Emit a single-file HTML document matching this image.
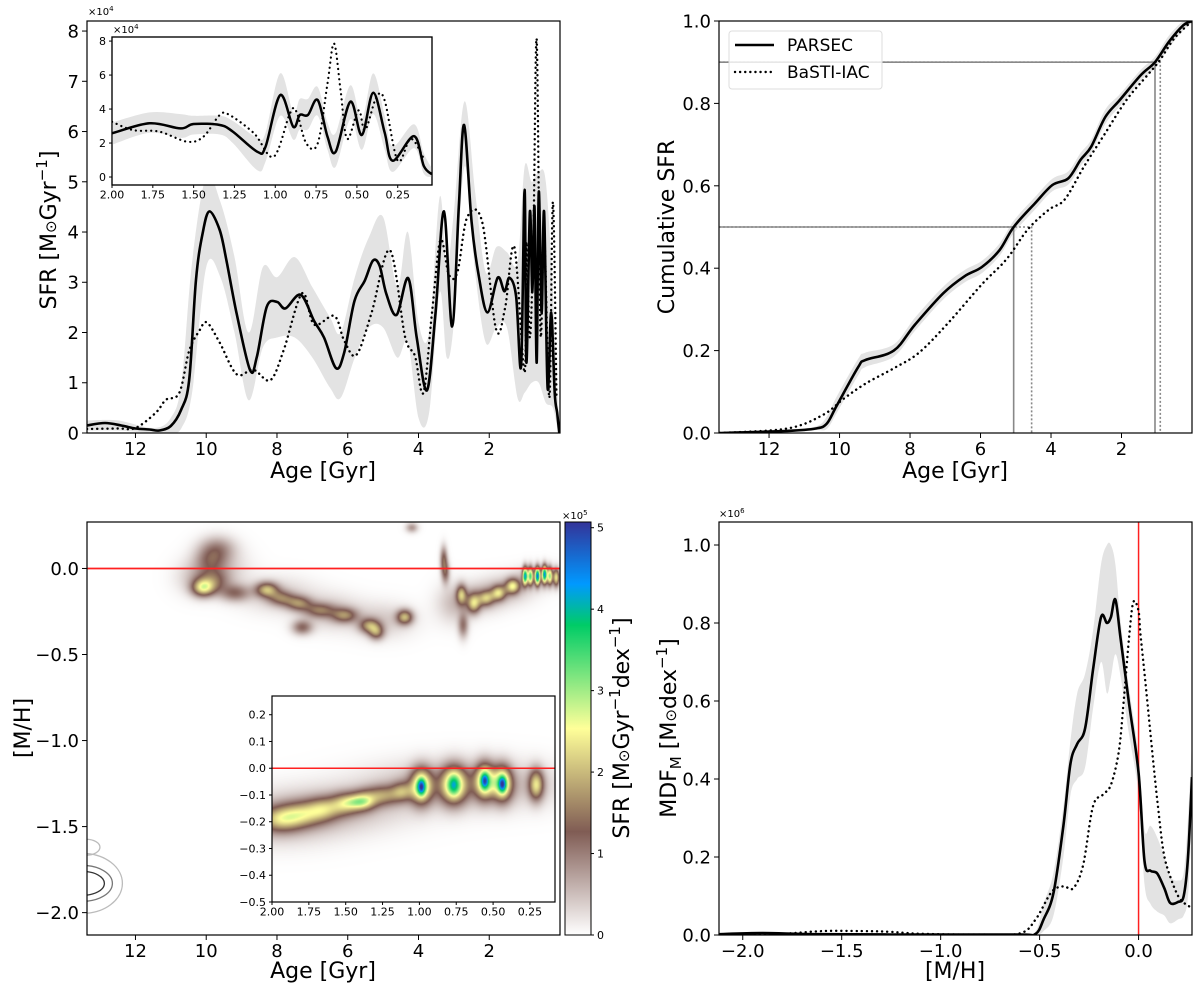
<!DOCTYPE html>
<html><head><meta charset="utf-8">
<style>
html,body{margin:0;padding:0;background:#fff;}
#wrap{position:relative;width:1200px;height:995px;overflow:hidden;background:#fff;}
#heat{position:absolute;left:87px;top:522px;}
#fig{position:absolute;left:0;top:0;}
text{font-family:"DejaVu Sans","Liberation Sans",sans-serif;fill:#000;}
</style></head>
<body>
<div id="wrap">
<canvas id="heat" width="473" height="413"></canvas>
<svg id="fig" width="1200" height="995" xmlns="http://www.w3.org/2000/svg">
<defs>
<clipPath id="c1"><rect x="87" y="21" width="473" height="412"/></clipPath>
<clipPath id="c1i"><rect x="112" y="37" width="320" height="148"/></clipPath>
<clipPath id="c2"><rect x="719" y="21" width="473" height="412"/></clipPath>
<clipPath id="c3"><rect x="87" y="522" width="473" height="413"/></clipPath>
<clipPath id="c4"><rect x="719" y="522" width="473" height="413"/></clipPath>
<linearGradient id="cbgrad" x1="0" y1="1" x2="0" y2="0">
<stop offset="0" stop-color="rgb(255,255,255)"/>
<stop offset="0.25" stop-color="rgb(128,92,84)"/>
<stop offset="0.5" stop-color="rgb(255,255,153)"/>
<stop offset="0.75" stop-color="rgb(0,204,102)"/>
<stop offset="0.85" stop-color="rgb(0,153,255)"/>
<stop offset="1" stop-color="rgb(51,51,153)"/>
</linearGradient>
</defs>
<g id="layer"></g>
</svg>
</div>
<script>
// ---------- Panel 1: SFR vs age ----------
const p1SolidAge=[13.37,12.86,12.4,12.0,11.6,11.33,11.0,10.71,10.48,10.29,10.1,9.91,9.62,9.43,9.14,8.76,8.57,8.29,8.0,7.76,7.33,6.95,6.67,6.33,6.1,5.81,5.52,5.29,5.10,4.91,4.62,4.29,4.05,3.76,3.52,3.28,3.05,2.86,2.71,2.5,2.29,2.05,1.76,1.57,1.43,1.24,1.10,1.0,0.95,0.85,0.78,0.72,0.66,0.6,0.52,0.45,0.35,0.25,0.15,0.08,0.02];
const p1SolidVal=[0.15,0.2,0.15,0.09,0.07,0.05,0.14,0.46,1.06,3.05,3.98,4.41,4.04,3.44,2.38,1.25,1.51,2.51,2.61,2.48,2.75,2.23,1.9,1.29,1.6,2.63,3.03,3.43,3.33,2.77,2.35,3.08,1.9,0.85,2.38,4.41,2.12,4.5,6.13,4.2,3.1,2.4,3.09,2.82,3.09,2.72,1.34,4.84,1.4,4.4,2.8,4.5,1.4,4.8,2.4,4.4,0.9,2.4,0.8,0.4,0];
const p1DotAge=[13.37,12.5,12.0,11.43,11.14,10.76,10.48,10.19,9.98,9.62,9.14,8.67,8.19,7.81,7.29,6.95,6.38,6.1,5.76,5.33,4.81,4.38,4.1,3.86,3.62,3.38,3.14,2.9,2.62,2.2,1.81,1.55,1.29,1.0,0.95,0.85,0.75,0.66,0.55,0.45,0.3,0.2,0.1];
const p1DotVal=[0.08,0.09,0.1,0.4,0.66,0.8,1.64,2.04,2.2,1.8,1.17,1.26,1.05,1.65,2.78,2.16,2.33,1.84,1.55,2.38,3.64,1.92,1.53,0.8,2.38,3.84,3.15,3.2,4.3,4.2,2.07,2.5,3.7,1.2,3.8,1.9,4.0,7.83,2.0,4.0,0.7,4.6,0.7];
const p1BandAge=[13.37,12.5,11.5,11,10.7,10.4,10,9.6,9.2,8.8,8.4,8,7.5,7,6.5,6.2,5.8,5.4,5,4.6,4.3,4.0,3.7,3.4,3.2,3.0,2.7,2.4,2.1,1.8,1.5,1.2,1.0,0.8,0.6,0.4,0.2,0.05];
const p1BandHi=[0.25,0.25,0.1,0.3,1.0,3.4,5.1,4.6,3.5,2.0,3.3,3.1,3.5,2.9,2.3,2.0,3.1,3.9,4.3,2.9,4.0,2.2,2.0,4.7,3.3,4.4,6.6,4.8,3.2,3.7,3.6,3.4,5.3,5.0,5.2,5.0,2.8,0.5];
const p1BandLo=[0.05,0.05,0,0,0.1,0.8,3.3,3.1,2.0,0.65,1.7,1.9,1.9,1.5,0.9,0.7,1.5,2.1,2.1,1.5,1.8,0.3,0.4,2.8,1.5,2.2,5.3,3.2,1.8,2.1,2.1,0.7,0.8,1.0,1.0,0.6,0.5,0];
const p1XTicks=[12,10,8,6,4,2];
const p1YTicks=[0,1,2,3,4,5,6,7,8];
// inset of panel 1
const i1SolidAge=[2.0,1.77,1.58,1.5,1.34,1.26,1.11,1.06,0.97,0.89,0.85,0.80,0.74,0.68,0.63,0.54,0.47,0.40,0.33,0.28,0.15,0.09,0.04];
const i1SolidVal=[2.57,3.16,2.86,3.12,3.06,2.67,1.49,1.78,4.82,2.96,3.65,3.65,4.53,2.37,1.49,4.43,2.47,4.96,2.61,0.96,2.41,0.65,0.16];
const i1BandHi=[3.2,3.8,3.7,3.6,3.6,3.3,2.3,2.6,6.1,3.8,4.6,4.6,5.3,3.2,2.6,5.4,3.4,6.1,3.6,1.8,3.1,1.4,0.5];
const i1BandLo=[1.9,2.6,2.3,2.5,2.5,2.0,0.4,0.9,3.6,2.2,2.8,2.8,3.6,1.6,0.6,3.4,1.6,3.7,1.6,0.3,1.7,0.2,0];
const i1DotAge=[2.0,1.87,1.71,1.54,1.44,1.34,1.28,1.13,1.01,0.91,0.87,0.81,0.74,0.68,0.64,0.60,0.56,0.49,0.45,0.38,0.33,0.25,0.17,0.09];
const i1DotVal=[3.25,2.76,2.67,2.08,2.37,3.65,3.65,2.57,1.19,3.75,3.84,1.98,1.98,5.51,7.86,5.1,2.25,3.92,2.76,4.71,4.5,0.96,2.25,1.08];
const i1XTicks=[2.0,1.75,1.5,1.25,1.0,0.75,0.5,0.25];
const i1XLabels=["2.00","1.75","1.50","1.25","1.00","0.75","0.50","0.25"];
const i1YTicks=[0,2,4,6,8];
// ---------- Panel 2: cumulative ----------
const p2SolidAge=[13.4,11.48,10.67,10.36,10.07,9.47,9.27,8.46,7.86,7.06,6.46,5.96,5.46,5.06,4.46,3.96,3.51,3.16,2.86,2.46,2.05,1.45,1.05,0.65,0.24,0];
const p2SolidVal=[0,0.005,0.011,0.023,0.068,0.16,0.177,0.2,0.263,0.339,0.38,0.403,0.444,0.5,0.557,0.602,0.618,0.663,0.695,0.767,0.808,0.869,0.9,0.95,0.99,1.0];
const p2BandHi=[0.003,0.009,0.016,0.04,0.09,0.18,0.195,0.215,0.28,0.355,0.395,0.418,0.46,0.515,0.572,0.617,0.635,0.68,0.712,0.785,0.822,0.882,0.913,0.965,1.0,1.0];
const p2BandLo=[0,0.002,0.007,0.01,0.05,0.14,0.16,0.185,0.248,0.324,0.365,0.388,0.43,0.485,0.542,0.587,0.603,0.648,0.68,0.75,0.793,0.855,0.885,0.935,0.978,0.995];
const p2DotAge=[13.4,11.48,10.47,9.87,9.26,8.46,7.76,6.96,5.96,5.26,4.66,4.06,3.61,3.06,2.46,1.86,1.26,0.91,0.5,0];
const p2DotVal=[0,0.011,0.044,0.084,0.12,0.157,0.194,0.263,0.361,0.422,0.494,0.542,0.567,0.647,0.728,0.808,0.869,0.905,0.958,1.0];
const p2Marks50=[5.06,4.55];
const p2Marks90=[1.05,0.9];
const p2YTicks=[0,0.2,0.4,0.6,0.8,1.0];
const p2YLabels=["0.0","0.2","0.4","0.6","0.8","1.0"];
// ---------- Panel 3: heatmap blobs ----------
const hmAge=[10.1,9.8,9.7,9.9,8.3,7.9,7.4,6.8,6.1,5.4,5.2,4.4,7.3,9.2,3.3,3.25,2.8,2.45,2.1,1.75,1.35,1.0,0.85,0.65,0.45,0.3,0.12,4.2,9.6,2.75,8.0,6.5,5.0,3.0,1.5,2.2,0.6,10.3];
const hmMh=[-0.11,-0.07,0.12,0.05,-0.12,-0.17,-0.2,-0.24,-0.27,-0.33,-0.37,-0.28,-0.34,-0.14,0.06,-0.02,-0.15,-0.2,-0.17,-0.14,-0.1,-0.04,-0.04,-0.04,-0.03,-0.04,-0.05,0.24,0.0,-0.33,-0.15,-0.25,-0.3,-0.2,-0.12,-0.17,-0.05,-0.05];
const hmAmp=[2.0,0.9,0.8,0.7,1.7,1.1,1.3,1.1,1.3,1.5,1.3,1.8,1.1,1.0,1.2,1.1,1.7,1.8,1.5,1.7,2.0,3.7,2.8,3.9,3.8,2.5,2.0,0.8,0.45,1.0,0.4,0.45,0.4,0.5,0.5,0.5,0.7,0.4];
const hmSAge=[0.22,0.3,0.35,0.3,0.22,0.25,0.25,0.3,0.25,0.2,0.15,0.16,0.2,0.3,0.07,0.08,0.1,0.13,0.15,0.14,0.14,0.05,0.05,0.05,0.05,0.05,0.06,0.12,0.5,0.1,0.7,0.6,0.6,0.35,0.5,0.4,0.4,0.4];
const hmSMh=[0.035,0.045,0.05,0.05,0.03,0.03,0.03,0.03,0.03,0.03,0.03,0.03,0.03,0.035,0.05,0.045,0.04,0.04,0.03,0.03,0.03,0.035,0.035,0.035,0.035,0.035,0.035,0.02,0.08,0.05,0.07,0.07,0.07,0.08,0.06,0.06,0.045,0.07];
// inset of panel 3
const inAge=[1.95,1.8,1.65,1.5,1.38,1.25,1.12,0.99,0.77,0.56,0.44,0.21,0.99,0.77,0.56,0.44,1.42,1.6,0.7,2.0];
const inMh=[-0.19,-0.17,-0.15,-0.13,-0.12,-0.1,-0.085,-0.065,-0.06,-0.045,-0.055,-0.06,-0.068,-0.06,-0.045,-0.058,-0.125,-0.15,-0.06,-0.2];
const inAmp=[1.4,1.3,1.3,1.5,1.5,1.3,1.2,2.6,2.5,2.6,2.6,2.0,1.9,0.9,1.6,1.9,0.6,0.5,0.8,0.5];
const inSAge=[0.1,0.1,0.08,0.07,0.06,0.08,0.05,0.05,0.06,0.045,0.045,0.035,0.018,0.025,0.018,0.018,0.06,0.35,0.4,0.3];
const inSMh=[0.032,0.032,0.03,0.028,0.026,0.026,0.025,0.045,0.048,0.045,0.045,0.04,0.02,0.025,0.02,0.02,0.015,0.06,0.06,0.06];
const p3XTicks=[12,10,8,6,4,2];
const p3YTicks=[0,-0.5,-1.0,-1.5,-2.0];
const p3YLabels=["0.0","\u22120.5","\u22121.0","\u22121.5","\u22122.0"];
const i3YTicks=[0.2,0.1,0,-0.1,-0.2,-0.3,-0.4,-0.5];
const i3YLabels=["0.2","0.1","0.0","\u22120.1","\u22120.2","\u22120.3","\u22120.4","\u22120.5"];
const cbTicks=[0,1,2,3,4,5];
// ---------- Panel 4: MDF ----------
const p4SolidMh=[-2.12,-1.9,-1.6,-1.0,-0.6,-0.52,-0.48,-0.43,-0.38,-0.344,-0.31,-0.27,-0.23,-0.19,-0.16,-0.14,-0.117,-0.09,-0.05,0.0,0.03,0.06,0.094,0.13,0.16,0.2,0.228,0.25,0.27];
const p4SolidVal=[0.002,0.005,0.002,0.001,0.001,0.003,0.04,0.108,0.28,0.44,0.49,0.53,0.68,0.815,0.80,0.815,0.86,0.756,0.6,0.415,0.19,0.165,0.158,0.12,0.082,0.085,0.1,0.2,0.405];
const p4BandHi=[0.004,0.008,0.004,0.002,0.002,0.01,0.08,0.16,0.33,0.5,0.62,0.67,0.78,0.95,1.0,1.0,0.95,0.8,0.64,0.46,0.27,0.28,0.25,0.2,0.15,0.14,0.16,0.3,0.5];
const p4BandLo=[0,0.002,0,0,0,0,0.01,0.05,0.2,0.36,0.4,0.43,0.58,0.7,0.62,0.66,0.72,0.66,0.52,0.36,0.13,0.08,0.06,0.05,0.03,0.04,0.05,0.1,0.3];
const p4DotMh=[-2.12,-2.0,-1.8,-1.6,-1.4,-1.25,-1.1,-0.8,-0.6,-0.52,-0.44,-0.38,-0.33,-0.28,-0.23,-0.18,-0.14,-0.1,-0.075,-0.045,-0.025,0.0,0.01,0.04,0.077,0.1,0.127,0.16,0.2,0.235,0.27];
const p4DotVal=[0.002,0.002,0.003,0.01,0.01,0.008,0.003,0.001,0.004,0.04,0.11,0.125,0.12,0.18,0.33,0.36,0.385,0.47,0.6,0.78,0.855,0.83,0.77,0.62,0.43,0.32,0.21,0.15,0.1,0.08,0.07];
const p4XTicks=[-2.0,-1.5,-1.0,-0.5,0.0];
const p4XLabels=["\u22122.0","\u22121.5","\u22121.0","\u22120.5","0.0"];
const p4YTicks=[0,0.2,0.4,0.6,0.8,1.0];
const p4YLabels=["0.0","0.2","0.4","0.6","0.8","1.0"];

const NS="http://www.w3.org/2000/svg";
const root=document.getElementById('layer');
function mk(tag,attrs,parent){const e=document.createElementNS(NS,tag);for(const k in attrs)e.setAttribute(k,attrs[k]);(parent||root).appendChild(e);return e;}
function X(ax,v){return ax.x0+(v-ax.xmin)/(ax.xmax-ax.xmin)*(ax.x1-ax.x0);}
function Y(ax,v){return ax.y0-(v-ax.ymin)/(ax.ymax-ax.ymin)*(ax.y0-ax.y1);}
function pts(ax,xs,ys){return xs.map((x,i)=>[X(ax,x),Y(ax,ys[i])]);}
function smooth(p){let d='M'+p[0][0].toFixed(1)+','+p[0][1].toFixed(1);for(let i=0;i<p.length-1;i++){const p0=p[i-1]||p[i],p1=p[i],p2=p[i+1],p3=p[i+2]||p2;const c1=[p1[0]+(p2[0]-p0[0])/6,p1[1]+(p2[1]-p0[1])/6];const c2=[p2[0]-(p3[0]-p1[0])/6,p2[1]-(p3[1]-p1[1])/6];d+=' C'+c1[0].toFixed(1)+','+c1[1].toFixed(1)+' '+c2[0].toFixed(1)+','+c2[1].toFixed(1)+' '+p2[0].toFixed(1)+','+p2[1].toFixed(1);}return d;}
function band(ax,xs,hi,lo,clip,name){const a=pts(ax,xs,hi),b=pts(ax,xs,lo).reverse();const d=smooth(a)+' L'+b[0][0]+','+b[0][1]+smooth(b).slice(1).replace(/^[^C]*/,'')+' Z';
const e=mk('path',{d:d,fill:'#e3e3e3',stroke:'none','clip-path':'url(#'+clip+')'});

}
function line(ax,xs,ys,dotted,w,clip,name){const e=mk('path',{d:smooth(pts(ax,xs,ys)),fill:'none',stroke:'#000','stroke-width':w,'stroke-linecap':dotted?'round':'butt','stroke-linejoin':'round','stroke-dasharray':dotted?'0.1 5':'none','clip-path':'url(#'+clip+')'});

}
function txt(x,y,s,size,anchor,name,rot){const e=mk('text',{x:x,y:y,'font-size':size,'text-anchor':anchor||'middle'});if(rot)e.setAttribute('transform','rotate(-90 '+x+' '+y+')');e.innerHTML=s;

return e;}
function frame(ax,name,fill){const e=mk('rect',{x:ax.x0,y:ax.y1,width:ax.x1-ax.x0,height:ax.y0-ax.y1,fill:fill||'none',stroke:'#000','stroke-width':1.2});

}
function xticks(ax,vals,labels,size,len,name){vals.forEach((v,i)=>{const x=X(ax,v);const t=mk('line',{x1:x,x2:x,y1:ax.y0,y2:ax.y0+len,stroke:'#000','stroke-width':1});


txt(x,ax.y0+len+size*0.95,labels?labels[i]:String(v),size,'middle',name+'-label');});}
function yticks(ax,vals,labels,size,len,name){vals.forEach((v,i)=>{const y=Y(ax,v);const t=mk('line',{x1:ax.x0-len,x2:ax.x0,y1:y,y2:y,stroke:'#000','stroke-width':1});


txt(ax.x0-len-3,y+size*0.36,labels?labels[i]:String(v),size,'end',name+'-label');});}

const A1={x0:87,x1:560,xmin:13.37,xmax:0,y0:433,y1:21,ymin:0,ymax:8.2};
const I1={x0:112,x1:432,xmin:2.0,xmax:0.04,y0:185,y1:37,ymin:-0.47,ymax:8.24};
const A2={x0:719,x1:1192,xmin:13.42,xmax:0,y0:433,y1:21,ymin:0,ymax:1.0};
const A3={x0:87,x1:560,xmin:13.37,xmax:0,y0:935,y1:522,ymin:-2.13,ymax:0.27};
const I3={x0:272,x1:555,xmin:2.0,xmax:0.08,y0:902,y1:696,ymin:-0.5,ymax:0.27};
const A4={x0:719,x1:1192,xmin:-2.12,xmax:0.27,y0:935,y1:522,ymin:0,ymax:1.059};
const CB={x0:565,x1:591,y0:935,y1:522,ymin:0,ymax:5.07,xmin:0,xmax:1};

// Panel 1
band(A1,p1BandAge,p1BandHi,p1BandLo,'c1','sfr-uncertainty-band');
line(A1,p1DotAge,p1DotVal,true,2.4,'c1','sfr-basti-line');
line(A1,p1SolidAge,p1SolidVal,false,2.6,'c1','sfr-parsec-line');
frame(A1,'sfr-axes');
xticks(A1,p1XTicks,null,18,5,'sfr-x');
yticks(A1,p1YTicks,null,18,5,'sfr-y');
txt(88,15,'×10<tspan font-size="7" dy="-4">4</tspan>',10,'start','sfr-y-multiplier');
txt(323,478,'Age [Gyr]',22,'middle','sfr-x-title');
txt(56,230,'SFR [M<tspan font-size="15">⊙</tspan>Gyr<tspan font-size="15" dy="-9">−1</tspan><tspan dy="9">]</tspan>',22,'middle','sfr-y-title',true);
// inset 1
frame(I1,'sfr-inset-axes','#fff');
band(I1,i1SolidAge,i1BandHi,i1BandLo,'c1i','sfr-inset-band');
line(I1,i1DotAge,i1DotVal,true,2.2,'c1i','sfr-inset-basti-line');
line(I1,i1SolidAge,i1SolidVal,false,2.5,'c1i','sfr-inset-parsec-line');
frame(I1,'sfr-inset-frame');
xticks(I1,i1XTicks,i1XLabels,11,3,'sfr-inset-x');
yticks(I1,i1YTicks,null,11,3,'sfr-inset-y');
txt(113,33,'×10<tspan font-size="7" dy="-4">4</tspan>',10,'start','sfr-inset-multiplier');

// Panel 2
band(A2,p2SolidAge,p2BandHi,p2BandLo,'c2','cumulative-band');
p2Marks50.forEach((a,i)=>{const x=X(A2,a),y=Y(A2,0.5);const e=mk('path',{d:'M'+A2.x0+','+y+' H'+x+' V'+A2.y0,fill:'none',stroke:'#888','stroke-width':1.6,'stroke-dasharray':i?'2 2':'none'});

});
p2Marks90.forEach((a,i)=>{const x=X(A2,a),y=Y(A2,0.9);const e=mk('path',{d:'M'+A2.x0+','+y+' H'+x+' V'+A2.y0,fill:'none',stroke:'#888','stroke-width':1.6,'stroke-dasharray':i?'2 2':'none'});

});
line(A2,p2DotAge,p2DotVal,true,2.4,'c2','cumulative-basti-line');
line(A2,p2SolidAge,p2SolidVal,false,2.6,'c2','cumulative-parsec-line');
frame(A2,'cumulative-axes');
xticks(A2,p1XTicks,null,18,5,'cumulative-x');
yticks(A2,p2YTicks,p2YLabels,18,5,'cumulative-y');
txt(955,478,'Age [Gyr]',22,'middle','cumulative-x-title');
txt(674,227,'Cumulative SFR',22,'middle','cumulative-y-title',true);

// Panel 3 heatmap canvas
function cmap(v){const stops=[[0,255,255,255],[0.25,128,92,84],[0.5,255,255,153],[0.75,0,204,102],[0.85,0,153,255],[1,51,51,153]];let t=Math.max(0,Math.min(1,v/5.07));for(let i=0;i<stops.length-1;i++){const a=stops[i],b=stops[i+1];if(t<=b[0]){const f=(t-a[0])/(b[0]-a[0]);return [a[1]+(b[1]-a[1])*f,a[2]+(b[2]-a[2])*f,a[3]+(b[3]-a[3])*f];}}return [51,51,153];}
(function(){const cv=document.getElementById('heat');const ctx=cv.getContext('2d');const W=473,H=413;const img=ctx.createImageData(W,H);
for(let py=0;py<H;py++){for(let px=0;px<W;px++){const gx=87+px,gy=522+py;let ax=A3,ages=hmAge,mhs=hmMh,amp=hmAmp,sa=hmSAge,sm=hmSMh;
if(gx>=I3.x0&&gx<=I3.x1&&gy>=I3.y1&&gy<=I3.y0){ax=I3;ages=inAge;mhs=inMh;amp=inAmp;sa=inSAge;sm=inSMh;}
const age=ax.xmin+(gx-ax.x0)/(ax.x1-ax.x0)*(ax.xmax-ax.xmin);const mh=ax.ymin+(ax.y0-gy)/(ax.y0-ax.y1)*(ax.ymax-ax.ymin);
let v=0;for(let k=0;k<ages.length;k++){const da=(age-ages[k])/sa[k],dm=(mh-mhs[k])/sm[k];const q=da*da+dm*dm;if(q<30)v+=amp[k]*Math.exp(-q/2);}
const c=cmap(v);const o=(py*W+px)*4;img.data[o]=c[0];img.data[o+1]=c[1];img.data[o+2]=c[2];img.data[o+3]=255;}}
ctx.putImageData(img,0,0);})();
// contours lower-left
[[22,12,'#333'],[30,18,'#777'],[40,30,'#bbb']].forEach((c,i)=>{const cx=X(A3,13.5),cy=Y(A3,-1.83);const e=mk('ellipse',{cx:cx,cy:cy,rx:c[0],ry:c[1],fill:'none',stroke:c[2],'stroke-width':1.3,'clip-path':'url(#c3)'});

});
(function(){const e=mk('ellipse',{cx:X(A3,13.4),cy:Y(A3,-1.62),rx:14,ry:8,fill:'none',stroke:'#bbb','stroke-width':1.3,'clip-path':'url(#c3)'});

})();
(function(){const y=Y(A3,0);const e=mk('line',{x1:A3.x0,x2:A3.x1,y1:y,y2:y,stroke:'#ff2020','stroke-width':1.8});

})();
frame(A3,'amr-axes');
xticks(A3,p3XTicks,null,18,5,'amr-x');
yticks(A3,p3YTicks,p3YLabels,18,5,'amr-y');
txt(323,978,'Age [Gyr]',22,'middle','amr-x-title');
txt(30,728,'[M/H]',22,'middle','amr-y-title',true);
// inset 3
(function(){const y=Y(I3,0);const e=mk('line',{x1:I3.x0,x2:I3.x1,y1:y,y2:y,stroke:'#ff2020','stroke-width':1.5});

})();
frame(I3,'amr-inset-axes');
xticks(I3,i1XTicks,i1XLabels,11,3,'amr-inset-x');
yticks(I3,i3YTicks,i3YLabels,11,3,'amr-inset-y');
// colorbar
(function(){const e=mk('rect',{x:CB.x0,y:CB.y1,width:CB.x1-CB.x0,height:CB.y0-CB.y1,fill:'url(#cbgrad)',stroke:'#000','stroke-width':1});

})();
cbTicks.forEach(v=>{const y=Y(CB,v);const t=mk('line',{x1:CB.x1,x2:CB.x1+3,y1:y,y2:y,stroke:'#000','stroke-width':1});


txt(CB.x1+6,y+4,String(v),11,'start','colorbar-tick-label');});
txt(562,519,'×10<tspan font-size="7" dy="-4">5</tspan>',10,'start','colorbar-multiplier');
txt(629,728,'SFR [M<tspan font-size="15">⊙</tspan>Gyr<tspan font-size="15" dy="-9">−1</tspan><tspan dy="9">dex</tspan><tspan font-size="15" dy="-9">−1</tspan><tspan dy="9">]</tspan>',22,'middle','colorbar-title',true);

// Panel 4
band(A4,p4SolidMh,p4BandHi,p4BandLo,'c4','mdf-band');
(function(){const x=X(A4,0);const e=mk('line',{x1:x,x2:x,y1:A4.y1,y2:A4.y0,stroke:'#ff2020','stroke-width':1.5});

})();
line(A4,p4DotMh,p4DotVal,true,2.4,'c4','mdf-basti-line');
line(A4,p4SolidMh,p4SolidVal,false,2.6,'c4','mdf-parsec-line');
frame(A4,'mdf-axes');
xticks(A4,p4XTicks,p4XLabels,18,5,'mdf-x');
yticks(A4,p4YTicks,p4YLabels,18,5,'mdf-y');
txt(719,517,'×10<tspan font-size="7" dy="-4">6</tspan>',10,'start','mdf-y-multiplier');
txt(955,978,'[M/H]',22,'middle','mdf-x-title');
txt(676,728,'MDF<tspan font-size="15" dy="5">M</tspan><tspan dy="-5"> [M</tspan><tspan font-size="15">⊙</tspan>dex<tspan font-size="15" dy="-9">−1</tspan><tspan dy="9">]</tspan>',22,'middle','mdf-y-title',true);
</script>
<script>
// legend overlay (panel 2)
(function(){const svg=document.getElementById('fig');const NS2="http://www.w3.org/2000/svg";
const g=document.createElementNS(NS2,'g');svg.appendChild(g);


const r=document.createElementNS(NS2,'rect');r.setAttribute('x',729);r.setAttribute('y',31);r.setAttribute('width',153);r.setAttribute('height',58);r.setAttribute('rx',3);r.setAttribute('fill','rgba(255,255,255,0.8)');r.setAttribute('stroke','#ddd');g.appendChild(r);


const l1=document.createElementNS(NS2,'line');l1.setAttribute('x1',735);l1.setAttribute('x2',774);l1.setAttribute('y1',45);l1.setAttribute('y2',45);l1.setAttribute('stroke','#000');l1.setAttribute('stroke-width',2.6);g.appendChild(l1);


const l2=document.createElementNS(NS2,'line');l2.setAttribute('x1',735);l2.setAttribute('x2',774);l2.setAttribute('y1',72);l2.setAttribute('y2',72);l2.setAttribute('stroke','#000');l2.setAttribute('stroke-width',2.4);l2.setAttribute('stroke-linecap','round');l2.setAttribute('stroke-dasharray','0.1 5');g.appendChild(l2);


const t1=document.createElementNS(NS2,'text');t1.setAttribute('x',787);t1.setAttribute('y',51);t1.setAttribute('font-size',17);t1.textContent='PARSEC';g.appendChild(t1);


const t2=document.createElementNS(NS2,'text');t2.setAttribute('x',787);t2.setAttribute('y',78);t2.setAttribute('font-size',17);t2.textContent='BaSTI-IAC';g.appendChild(t2);

})();
</script>
</body></html>
